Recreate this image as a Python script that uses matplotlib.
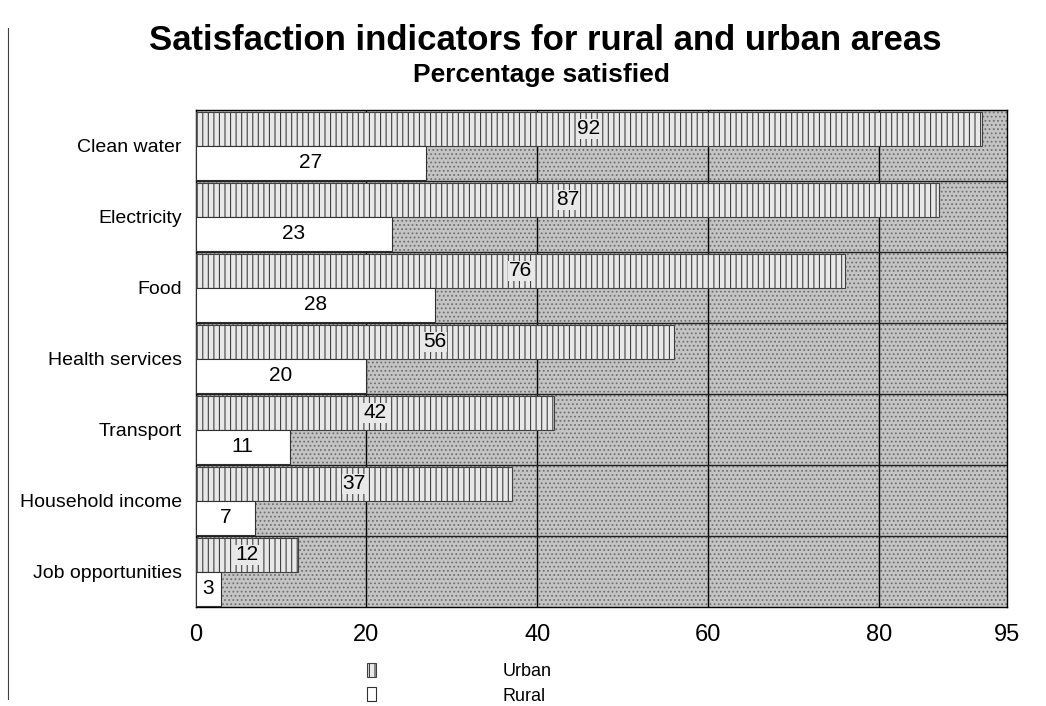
import matplotlib.pyplot as plt
from matplotlib.patches import Rectangle
from matplotlib.lines import Line2D
import numpy as np

# Satisfaction indicators, percentage satisfied
categories = ['Clean water', 'Electricity', 'Food', 'Health services',
              'Transport', 'Household income', 'Job opportunities']
urban = [92, 87, 76, 56, 42, 37, 12]
rural = [27, 23, 28, 20, 11, 7, 3]
x_ticks = [0, 20, 40, 60, 80, 95]

plt.rcParams['font.family'] = ['Liberation Sans', 'DejaVu Sans']
plt.rcParams['hatch.linewidth'] = 0.8

fig = plt.figure(figsize=(10.46, 7.06), dpi=100)
ax = fig.add_axes([0.187, 0.140, 0.776, 0.704])

n = len(categories)
pos = np.arange(n)[::-1]  # first category at top
h = 0.48

# stippled grey background
ax.set_facecolor('#c4c4c4')
ax.add_patch(Rectangle((0, 0), 1, 1, transform=ax.transAxes, facecolor='none',
                       edgecolor='#707070', hatch='....', linewidth=0, zorder=0))

ub = ax.barh(pos + h / 2, urban, height=h, color='#e8e8e8', edgecolor='#404040',
             hatch='|||', linewidth=0.8, zorder=3)
rb = ax.barh(pos - h / 2, rural, height=h, color='white', edgecolor='#303030',
             linewidth=0.8, zorder=3)

for p, u, r in zip(pos, urban, rural):
    ax.text(u / 2, p + h / 2, str(u), ha='center', va='center', fontsize=15,
            zorder=4, bbox=dict(facecolor='#e8e8e8', edgecolor='none', pad=0.3))
    ax.text(r / 2, p - h / 2, str(r), ha='center', va='center', fontsize=15, zorder=4)

ax.set_xlim(0, 95)
ax.set_ylim(-0.5, n - 0.5)
ax.set_xticks(x_ticks)
ax.set_xticklabels([str(t) for t in x_ticks], fontsize=17)
ax.set_yticks(pos)
ax.set_yticklabels(categories, fontsize=14)
ax.tick_params(length=0, pad=10)
ax.tick_params(axis='x', pad=12)

for xv in [20, 40, 60, 80]:
    ax.axvline(xv, color='black', linewidth=1.0, zorder=2)
for yv in np.arange(n - 1) + 0.5:
    ax.axhline(yv, color='#202020', linewidth=1.0, zorder=2)
for s in ax.spines.values():
    s.set_linewidth(1.0)

fig.text(0.521, 0.943, 'Satisfaction indicators for rural and urban areas',
         ha='center', va='center', fontsize=25, fontweight='bold')
fig.text(0.518, 0.894, 'Percentage satisfied', ha='center', va='center',
         fontsize=19, fontweight='bold')

# scanned page edge on the left
fig.add_artist(Line2D([0.008, 0.008], [0.01, 0.96], transform=fig.transFigure,
                      color='#404040', linewidth=0.8))

# legend below the axis
leg = fig.legend([ub, rb], ['Urban', 'Rural'], loc='upper left',
                 bbox_to_anchor=(0.351, 0.061), borderaxespad=0, borderpad=0,
                 frameon=False, fontsize=13,
                 handlelength=0.5, handleheight=0.8, handletextpad=7,
                 labelspacing=0.4)

plt.savefig('out.png', dpi=100)
